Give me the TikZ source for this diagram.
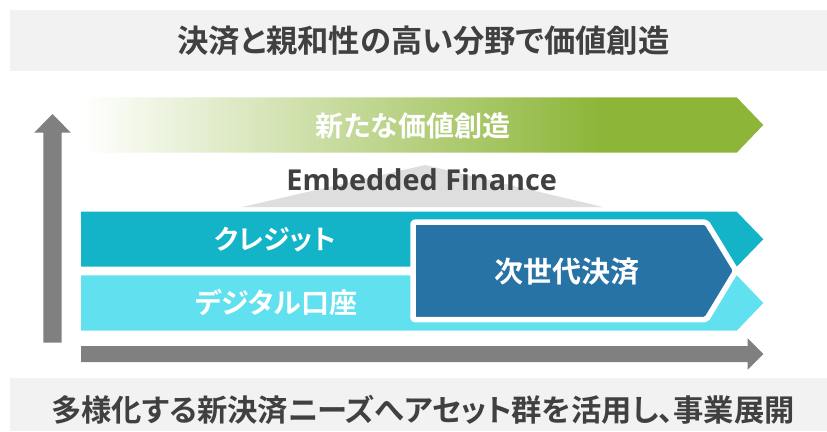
\documentclass[tikz,border=0pt]{standalone}
\usepackage{fontspec}
\newfontfamily\jp{Noto Sans CJK JP Bold}[RawFeature=+palt]
\newfontfamily\lat{Open Sans Bold}
\definecolor{bandgray}{HTML}{F2F2F2}
\definecolor{txtgray}{HTML}{404040}
\definecolor{grn}{HTML}{8DB639}
\definecolor{cTeal}{HTML}{14B4C8}
\definecolor{cCyan}{HTML}{61E1F0}
\definecolor{cBlue}{HTML}{2873A5}
\definecolor{arrgray}{HTML}{808080}
\definecolor{trigray}{HTML}{DEDEDE}
\pgfdeclarehorizontalshading{greenfade}{100bp}{color(0bp)=(white); color(25bp)=(white); color(63bp)=(grn); color(100bp)=(grn)}
\begin{document}
\begin{tikzpicture}[x=1pt,y=-1pt,
  jptext/.style={inner sep=0pt, outer sep=0pt},
  band/.style={fill=bandgray},
  arr/.style={fill=arrgray}]
\useasboundingbox (0,0) rectangle (827,431);
\fill[white] (0,0) rectangle (827,431);
% top and bottom bands
\fill[band] (10,10) rectangle (827,70.7);
\fill[band] (10,377.7) rectangle (827,431);
\node[jptext, text=txtgray, font=\jp\fontsize{31.3}{31.3}\selectfont] (title) at (423.5,41) {決済と親和性の高い分野で価値創造};
\node[jptext, text=txtgray, font=\jp\fontsize{30.3}{30.3}\selectfont] (bottom) at (423,409.5) {多様化する新決済ニーズへアセット群を活用し、事業展開};
% green gradient arrow
\shade[shading=greenfade] (81.7,97.3) -- (736.7,97.3) -- (763.3,125) -- (736.7,152.7) -- (81.7,152.7) -- cycle;
\node[jptext, text=white, font=\jp\fontsize{28}{28}\selectfont] (newval) at (413,126) {新たな価値創造};
% embedded finance triangle
\fill[trigray] (242,207) -- (425,165) -- (603,207) -- cycle;
\node[jptext, text=txtgray, font=\lat\fontsize{28.8}{28.8}\selectfont, anchor=base] (ef) at (421.7,190.5) {Embedded Finance};
% bands
\fill[cTeal] (81,211.7) -- (736.7,211.7) -- (763.3,239.2) -- (736.7,266.7) -- (81,266.7) -- cycle;
\fill[cCyan] (81,275.3) -- (736.7,275.3) -- (763.3,303) -- (736.7,330.7) -- (81,330.7) -- cycle;
\node[jptext, text=white, font=\jp\fontsize{27}{27}\selectfont] (credit) at (275,240) {クレジット};
\node[jptext, text=white, font=\jp\fontsize{28}{28}\selectfont] (digital) at (276,302) {デジタル口座};
% next-gen payment
\filldraw[fill=cBlue, draw=white, line width=5.5pt, rounded corners=2pt, line join=round]
  (413,222.2) -- (706.5,222.2) -- (736,270.7) -- (706.5,319.5) -- (413,319.5) -- cycle;
\node[jptext, text=white, font=\jp\fontsize{29}{29}\selectfont] (nextgen) at (567,271.5) {次世代決済};
% axes arrows
\fill[arr] (43.3,342.7) -- (43.3,132.7) -- (34.2,132.7) -- (52.5,114) -- (70.8,132.7) -- (61.7,132.7) -- (61.7,342.7) -- cycle;
\fill[arr] (81,346) -- (747.7,346) -- (747.7,338.3) -- (763.3,354) -- (747.7,369.7) -- (747.7,362) -- (81,362) -- cycle;
\end{tikzpicture}
\end{document}
